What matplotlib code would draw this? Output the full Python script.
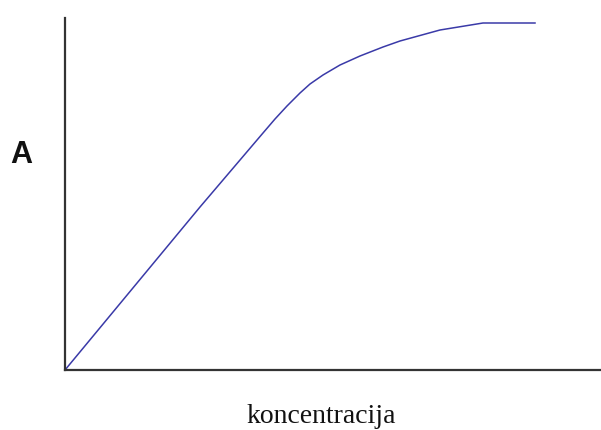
import matplotlib
matplotlib.use("Agg")
import matplotlib.pyplot as plt

# data (arbitrary units)
konc = [0, 135, 198, 210, 222, 235, 245, 258, 275, 295, 318, 335, 375, 418, 470]
absorb = [0, 163, 237, 251, 264, 277, 286, 295, 305, 314, 323, 329, 340, 347, 347]

W, H = 601, 430
fig = plt.figure(figsize=(W / 100, H / 100), dpi=100)
ax = fig.add_axes([65 / W, (H - 370) / H, (W - 65) / W, (370 - 18) / H])
ax.plot(konc, absorb, color="#3a3aa8", linewidth=1.1, solid_joinstyle="round")
ax.set_xlim(0, W - 65)
ax.set_ylim(0, 352)
for s in ["top", "right"]:
    ax.spines[s].set_visible(False)
for s in ["left", "bottom"]:
    ax.spines[s].set_color("#333333")
    ax.spines[s].set_linewidth(1.6)
ax.set_xticks([])
ax.set_yticks([])

fig.text(21 / W, 1 - 155 / H, "A", fontsize=22, fontweight="bold",
         family="Liberation Sans", ha="center", va="center", color="#111111")
fig.text(321 / W, 1 - 423 / H, "koncentracija", fontsize=20,
         family="Liberation Serif", ha="center", va="baseline", color="#111111")

fig.savefig("out.png", dpi=100)
